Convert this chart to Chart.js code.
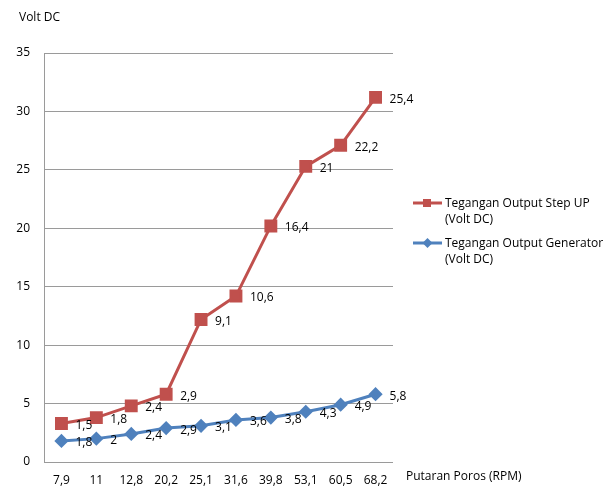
<!DOCTYPE html>
<html>
<head>
<meta charset="utf-8">
<script src="https://cdn.jsdelivr.net/npm/chart.js@4/dist/chart.umd.min.js"></script>
<style>
  html, body { margin: 0; padding: 0; background: #ffffff; }
  #wrap { width: 613px; height: 486px; }
</style>
</head>
<body>
<div id="wrap"><canvas id="c" width="613" height="486"></canvas></div>
<script>
// Shaft speed categories (RPM)
const rpm = ['7,9', '11', '12,8', '20,2', '25,1', '31,6', '39,8', '53,1', '60,5', '68,2'];
// Generator output voltage (Volt DC)
const generatorVolt = [1.8, 2, 2.4, 2.9, 3.1, 3.6, 3.8, 4.3, 4.9, 5.8];
// Step-up output voltage (Volt DC), stacked on top of the generator series
const stepUpVolt = [1.5, 1.8, 2.4, 2.9, 9.1, 10.6, 16.4, 21, 22.2, 25.4];
// Y axis ticks
const yTicks = [0, 5, 10, 15, 20, 25, 30, 35];

const FONT = "'Open Sans', 'Liberation Sans', sans-serif";
const RED = '#C0504D';
const BLUE = '#4F81BD';

const fmt = v => String(v).replace('.', ',');

// Value labels to the right of each point
const valueLabels = {
  id: 'valueLabels',
  afterDatasetsDraw(chart) {
    const ctx = chart.ctx;
    ctx.save();
    ctx.font = '12px ' + FONT;
    ctx.fillStyle = '#000000';
    ctx.textAlign = 'left';
    ctx.textBaseline = 'middle';
    chart.data.datasets.forEach((ds, di) => {
      const meta = chart.getDatasetMeta(di);
      meta.data.forEach((pt, i) => {
        ctx.fillText(fmt(ds.data[i]), pt.x + 14, pt.y + 2);
      });
    });
    ctx.restore();
  }
};

// Axis titles and side legend
const decorations = {
  id: 'decorations',
  afterDraw(chart) {
    const ctx = chart.ctx;
    ctx.save();
    ctx.font = '12px ' + FONT;
    ctx.fillStyle = '#000000';
    ctx.textBaseline = 'middle';
    ctx.textAlign = 'left';
    ctx.fillText('Volt DC', 19, 18);
    ctx.fillText('Putaran Poros (RPM)', 406, 477);

    // legend: step-up first, then generator
    const order = [1, 0];
    order.forEach((di, k) => {
      const ds = chart.data.datasets[di];
      const y = 203 + k * 40;
      ctx.strokeStyle = ds.borderColor;
      ctx.lineWidth = 3;
      ctx.beginPath();
      ctx.moveTo(413, y);
      ctx.lineTo(442, y);
      ctx.stroke();
      ctx.fillStyle = ds.borderColor;
      if (ds.pointStyle === 'rect') {
        ctx.fillRect(423, y - 4, 8, 8);
      } else {
        ctx.beginPath();
        ctx.moveTo(427.5, y - 5);
        ctx.lineTo(432.5, y);
        ctx.lineTo(427.5, y + 5);
        ctx.lineTo(422.5, y);
        ctx.closePath();
        ctx.fill();
      }
      ctx.fillStyle = '#000000';
      const parts = ds.legendLines;
      parts.forEach((t, j) => ctx.fillText(t, 445, y + 1 + j * 16));
    });
    ctx.restore();
  }
};

new Chart(document.getElementById('c'), {
  type: 'line',
  data: {
    labels: rpm,
    datasets: [
      {
        label: 'Tegangan Output Generator (Volt DC)',
        legendLines: ['Tegangan Output Generator', '(Volt DC)'],
        data: generatorVolt,
        borderColor: BLUE,
        backgroundColor: BLUE,
        borderWidth: 3,
        pointStyle: 'rectRot',
        pointRadius: 5,
        pointHoverRadius: 5,
        fill: false,
        tension: 0
      },
      {
        label: 'Tegangan Output Step UP (Volt DC)',
        legendLines: ['Tegangan Output Step UP', '(Volt DC)'],
        data: stepUpVolt,
        borderColor: RED,
        backgroundColor: RED,
        borderWidth: 3,
        pointStyle: 'rect',
        pointRadius: 7,
        pointHoverRadius: 7,
        fill: false,
        tension: 0
      }
    ]
  },
  options: {
    responsive: false,
    animation: false,
    devicePixelRatio: 1,
    layout: { padding: { left: 0, top: 53, right: 220, bottom: 0 } },
    plugins: {
      legend: { display: false },
      tooltip: { enabled: false }
    },
    scales: {
      x: {
        offset: true,
        grid: { display: false, drawTicks: false },
        border: { display: false },
        ticks: { font: { family: FONT, size: 12 }, color: '#000000', padding: 11, maxRotation: 0 },
        afterFit: s => { s.height = 24; }
      },
      y: {
        stacked: true,
        min: 0,
        max: 35,
        afterBuildTicks: s => { s.ticks = yTicks.map(v => ({ value: v })); },
        grid: { color: '#9a9a9a', lineWidth: 1, drawTicks: false },
        border: { display: true, color: '#9a9a9a', width: 1 },
        ticks: { font: { family: FONT, size: 12 }, color: '#000000', padding: 14 },
        afterFit: s => { s.width = 44; }
      }
    }
  },
  plugins: [valueLabels, decorations]
});
</script>
</body>
</html>
